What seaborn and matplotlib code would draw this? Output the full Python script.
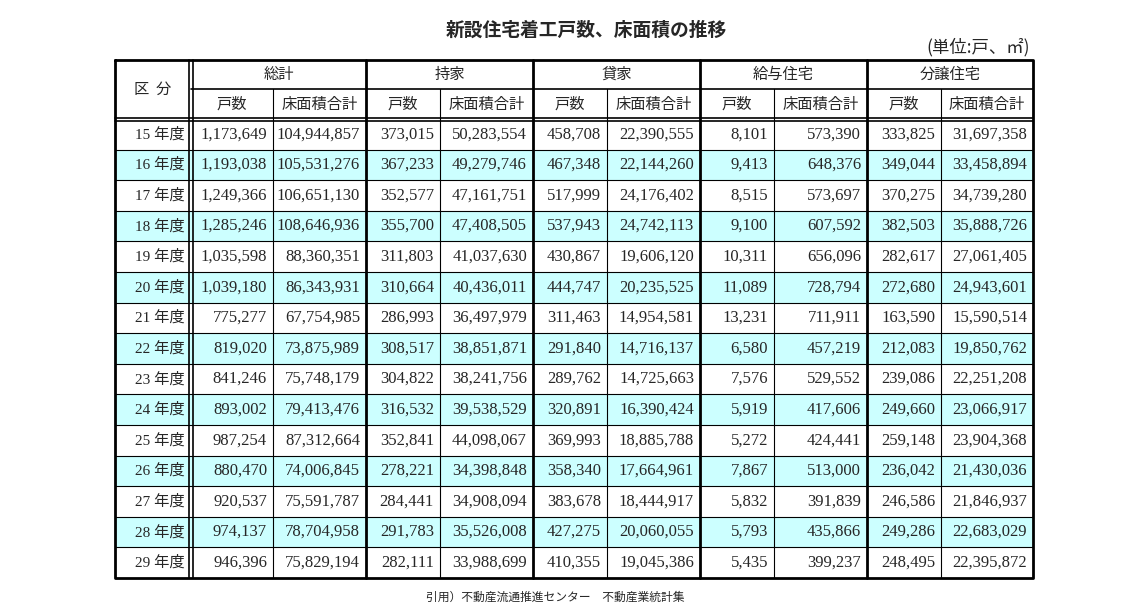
import matplotlib
matplotlib.use("Agg")
import matplotlib.pyplot as plt
import seaborn as sns

sns.set_theme(style="white")

years = ["15 年度","16 年度","17 年度","18 年度","19 年度","20 年度","21 年度","22 年度",
         "23 年度","24 年度","25 年度","26 年度","27 年度","28 年度","29 年度"]
groups = ["総計", "持家", "貸家", "給与住宅", "分譲住宅"]
subheads = ["戸数", "床面積合計"]
total_units = [1173649,1193038,1249366,1285246,1035598,1039180,775277,819020,841246,893002,987254,880470,920537,974137,946396]
total_area = [104944857,105531276,106651130,108646936,88360351,86343931,67754985,73875989,75748179,79413476,87312664,74006845,75591787,78704958,75829194]
own_units = [373015,367233,352577,355700,311803,310664,286993,308517,304822,316532,352841,278221,284441,291783,282111]
own_area = [50283554,49279746,47161751,47408505,41037630,40436011,36497979,38851871,38241756,39538529,44098067,34398848,34908094,35526008,33988699]
rent_units = [458708,467348,517999,537943,430867,444747,311463,291840,289762,320891,369993,358340,383678,427275,410355]
rent_area = [22390555,22144260,24176402,24742113,19606120,20235525,14954581,14716137,14725663,16390424,18885788,17664961,18444917,20060055,19045386]
emp_units = [8101,9413,8515,9100,10311,11089,13231,6580,7576,5919,5272,7867,5832,5793,5435]
emp_area = [573390,648376,573697,607592,656096,728794,711911,457219,529552,417606,424441,513000,391839,435866,399237]
sale_units = [333825,349044,370275,382503,282617,272680,163590,212083,239086,249660,259148,236042,246586,249286,248495]
sale_area = [31697358,33458894,34739280,35888726,27061405,24943601,15590514,19850762,22251208,23066917,23904368,21430036,21846937,22683029,22395872]
columns = [total_units,total_area,own_units,own_area,rent_units,rent_area,emp_units,emp_area,sale_units,sale_area]

JP = "Noto Sans CJK JP"
NUM = "Liberation Serif"

fig = plt.figure(figsize=(11.4, 6.13), dpi=100)
ax = fig.add_axes([0, 0, 1, 1])
ax.set_xlim(0, 1140); ax.set_ylim(613, 0); ax.axis("off")

xs = [115, 191, 273, 366, 440, 533, 607, 700, 774, 867, 941, 1033]
y0, y1, y2 = 60, 89, 119
rh = 30.6
nrows = len(years)
ybot = y2 + rh * nrows

for i in range(nrows):
    if i % 2 == 1:
        ax.fill_between([xs[0], xs[-1]], y2 + i*rh, y2 + (i+1)*rh, color="#ccffff", lw=0)
ax.plot([xs[0], xs[-1], xs[-1], xs[0], xs[0]], [y0, y0, ybot, ybot, y0], color="black", lw=2)
for i in range(1, nrows):
    ax.plot([xs[0], xs[-1]], [y2 + i*rh]*2, color="black", lw=0.8)
ax.plot([xs[1], xs[-1]], [y1, y1], color="black", lw=1.2)
ax.plot([xs[0], xs[-1]], [y2-1.5, y2-1.5], color="black", lw=1.2)
ax.plot([xs[0], xs[-1]], [y2+1.5, y2+1.5], color="black", lw=1.2)
ax.plot([xs[1]-2, xs[1]-2], [y0, ybot], color="black", lw=1.2)
ax.plot([xs[1]+2, xs[1]+2], [y0, ybot], color="black", lw=1.2)
for k, x in enumerate(xs[2:-1]):
    if k % 2 == 1:
        ax.plot([x, x], [y0, ybot], color="black", lw=2)
    else:
        ax.plot([x, x], [y1, ybot], color="black", lw=0.8)

ax.text((xs[0]+xs[1])/2, (y0+y2)/2, "区  分", ha="center", va="center", fontsize=11, family=JP)
for g, name in enumerate(groups):
    a, b, c = xs[1+2*g], xs[2+2*g], xs[3+2*g]
    ax.text((a+c)/2, (y0+y1)/2, name, ha="center", va="center", fontsize=11, family=JP)
    ax.text((a+b)/2, (y1+y2)/2, subheads[0], ha="center", va="center", fontsize=11, family=JP)
    ax.text((b+c)/2, (y1+y2)/2, subheads[1], ha="center", va="center", fontsize=11, family=JP)

for i in range(nrows):
    yc = y2 + (i+0.5)*rh
    ax.text(xs[1]-6, yc, years[i], ha="right", va="center", fontsize=11, family=[NUM, JP])
    for j, col in enumerate(columns):
        ax.text(xs[j+2]-6, yc, f"{col[i]:,}", ha="right", va="center", fontsize=12, family=NUM)

ax.text(586, 30, "新設住宅着工戸数、床面積の推移", ha="center", va="center", fontsize=13.5,
        fontweight="bold", family=JP)
ax.text(1030, 47, "(単位:戸、㎡)", ha="right", va="center", fontsize=12.5, family=JP)
ax.text(555, 597, "引用）不動産流通推進センター　不動産業統計集", ha="center", va="center", fontsize=8.5, family=JP)

fig.savefig("out.png", dpi=100)
